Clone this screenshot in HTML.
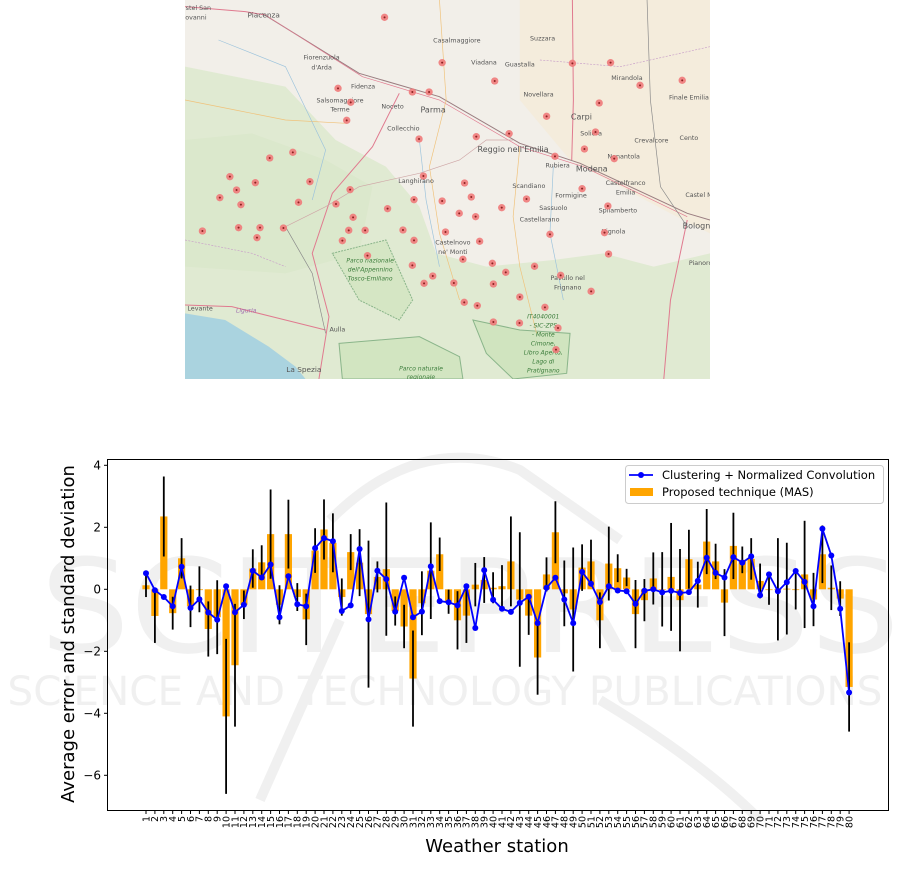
<!DOCTYPE html>
<html><head><meta charset="utf-8"><style>
html,body{margin:0;padding:0;background:#fff;width:915px;height:881px;overflow:hidden}
svg{display:block}
text{font-family:"DejaVu Sans","Liberation Sans",sans-serif}
</style></head><body>
<svg id="s" width="915" height="881" viewBox="0 0 915 881" xmlns="http://www.w3.org/2000/svg">
<svg x="185" y="0" width="525" height="379" viewBox="0 0 1568 1137" preserveAspectRatio="none">
<rect width="1568" height="1137" fill="#f2efe9"/>
<path d="M1000 0 L1568 0 L1568 700 L1450 640 L1300 560 L1150 480 L1000 300 Z" fill="#f5e9d3" opacity="0.6"/>
<path d="M0 200 L300 260 L450 420 L600 500 L700 620 L750 760 L900 800 L1100 780 L1250 760 L1400 800 L1568 760 L1568 1137 L0 1137 Z" fill="#e0ead2"/>
<path d="M0 420 L200 400 L420 480 L560 560 L520 760 L300 820 L0 800 Z" fill="#dbe8cc"/>
<path d="M440 760 L600 720 L680 900 L640 960 L520 900 Z" fill="#d5e6c4" stroke="#8ab58a" stroke-width="3" stroke-dasharray="6 3"/>
<path d="M860 960 L1000 990 L1150 1000 L1140 1120 L980 1137 L900 1060 Z" fill="#d0e4bf" stroke="#8ab58a" stroke-width="3"/>
<path d="M460 1030 L700 1010 L820 1070 L830 1137 L470 1137 Z" fill="#d2e5c1" stroke="#8ab58a" stroke-width="3"/>
<path d="M0 940 L120 960 L250 1040 L330 1100 L360 1137 L0 1137 Z" fill="#aad3df"/>
<g fill="none" stroke-width="3">
<path d="M230 40 L520 220 L760 290 L1000 430 L1180 490 L1500 640 L1568 660" stroke="#9a7d80"/>
<path d="M240 45 L530 230 L760 300 L1000 440 L1190 500 L1500 650" stroke="#e07a8f" stroke-width="2"/>
<path d="M0 20 L180 35 L240 45" stroke="#e07a8f"/>
<path d="M1157 0 L1160 300 L1155 480" stroke="#e07a8f"/>
<path d="M640 280 L560 440 L440 580 L380 760 L430 950 L400 1137" stroke="#e07a8f"/>
<path d="M0 915 L140 920 L300 960 L420 990" stroke="#e07a8f"/>
<path d="M1500 660 L1450 900 L1430 1137" stroke="#e07a8f"/>
<path d="M300 680 L420 620 L520 560 L700 520 L820 480 L900 420 L980 420" stroke="#cfa7a7" stroke-width="2"/>
<path d="M0 300 L150 330 L300 360 L480 370" stroke="#f0c27a" stroke-width="2"/>
<path d="M760 0 L780 300 L730 500 L760 700 L820 900" stroke="#f0c27a" stroke-width="2"/>
<path d="M1380 0 L1390 300 L1420 560 L1500 680" stroke="#888" stroke-width="2"/>
<path d="M1000 440 L980 650 L1000 800 L1050 1000" stroke="#f0c27a" stroke-width="2"/>
<path d="M300 680 L380 820 L420 1000" stroke="#888" stroke-width="2"/>
<path d="M0 720 L200 760 L300 800" stroke="#c9a0c9" stroke-width="2" stroke-dasharray="6 4"/>
<path d="M1060 180 L1300 200 L1568 140" stroke="#c9a0c9" stroke-width="2" stroke-dasharray="6 4"/>
<path d="M100 120 L300 200 L420 450 L380 600" stroke="#9cc3dc" stroke-width="2"/>
<path d="M700 420 L720 600 L760 800" stroke="#9cc3dc" stroke-width="2"/>
<path d="M1100 500 L1090 700 L1130 900" stroke="#9cc3dc" stroke-width="2"/>
</g>
<g font-size="19" fill="#555" text-anchor="middle">
<text x="235" y="52" font-size="22">Piacenza</text><text x="40" y="30">stel San</text><text x="30" y="58">iovanni</text>
<text x="812" y="127">Casalmaggiore</text><text x="1068" y="122">Suzzara</text>
<text x="408" y="178">Fiorenzuola</text><text x="408" y="208">d'Arda</text>
<text x="893" y="194">Viadana</text><text x="1000" y="200">Guastalla</text>
<text x="532" y="265">Fidenza</text><text x="463" y="307">Salsomaggiore</text><text x="463" y="335">Terme</text>
<text x="620" y="326">Noceto</text><text x="741" y="338" font-size="24">Parma</text>
<text x="1056" y="290">Novellara</text><text x="1320" y="240">Mirandola</text>
<text x="1505" y="298">Finale Emilia</text><text x="1184" y="358" font-size="24">Carpi</text>
<text x="652" y="392">Collecchio</text><text x="1213" y="407">Soliera</text>
<text x="1393" y="427">Crevalcore</text><text x="1505" y="420">Cento</text>
<text x="980" y="456" font-size="24">Reggio nell'Emilia</text><text x="1310" y="476">Nonantola</text>
<text x="1113" y="503">Rubiera</text><text x="1215" y="514" font-size="24">Modena</text>
<text x="690" y="549">Langhirano</text><text x="1027" y="564">Scandiano</text>
<text x="1316" y="555">Castelfranco</text><text x="1316" y="583">Emilia</text>
<text x="1153" y="592">Formigine</text><text x="1535" y="591">Castel M</text>
<text x="1100" y="630">Sassuolo</text><text x="1293" y="638">Spilamberto</text>
<text x="1059" y="664">Castellarano</text><text x="1280" y="700">Vignola</text>
<text x="1535" y="686" font-size="24">Bologna</text>
<text x="800" y="734">Castelnovo</text><text x="800" y="762">ne' Monti</text>
<text x="1540" y="795">Pianoro</text>
<text x="1143" y="840">Pavullo nel</text><text x="1143" y="868">Frignano</text>
<text x="45" y="932">Levante</text><text x="355" y="1116" font-size="22">La Spezia</text>
<text x="455" y="995">Aulla</text>
</g>
<g font-size="18" fill="#3c7d3c" font-style="italic" text-anchor="middle">
<text x="553" y="788">Parco nazionale</text><text x="553" y="815">dell'Appennino</text><text x="553" y="842">Tosco-Emiliano</text>
<text x="1070" y="955">IT4040001</text><text x="1070" y="982">- SIC-ZPS</text><text x="1070" y="1009">- Monte</text><text x="1070" y="1036">Cimone,</text><text x="1070" y="1063">Libro Aperto,</text><text x="1070" y="1090">Lago di</text><text x="1070" y="1117">Pratignano</text>
<text x="705" y="1112">Parco naturale</text><text x="705" y="1137">regionale</text>
<text x="183" y="938" fill="#a070b0">Liguria</text>
</g>
<g id="dots"></g>
</svg>

<g fill="#f0f0f0">
<text x="470" y="652" font-size="130" text-anchor="middle" textLength="860" lengthAdjust="spacingAndGlyphs">SCITEPRESS</text>
<text x="445" y="705" font-size="40" text-anchor="middle" textLength="875" lengthAdjust="spacingAndGlyphs">SCIENCE AND TECHNOLOGY PUBLICATIONS</text>
</g>
<path d="M330 520 Q420 430 520 470 L620 540 M260 800 L340 620 M600 700 Q700 760 760 820" fill="none" stroke="#f0f0f0" stroke-width="10"/>
<g id="chart"></g>
<rect x="107.5" y="459.5" width="781" height="351" fill="none" stroke="#000" stroke-width="1"/>
<g font-size="12" text-anchor="end" id="yt"></g>
<text transform="translate(74,634) rotate(-90)" font-size="18" text-anchor="middle">Average error and standard deviation</text>
<text x="497" y="852" font-size="18" text-anchor="middle">Weather station</text>
<g id="xt" font-size="9.5" text-anchor="end"></g>
<rect x="625.5" y="465.5" width="258" height="38" rx="3" fill="#fff" fill-opacity="0.8" stroke="#ccc"/>
<line x1="629" y1="475" x2="653" y2="475" stroke="#0000ff" stroke-width="1.8"/>
<circle cx="641" cy="475" r="3" fill="#0000ff"/>
<rect x="630" y="488" width="23" height="8" fill="#ffa500"/>
<text x="662" y="479" font-size="11.5">Clustering + Normalized Convolution</text>
<text x="662" y="496" font-size="11.5">Proposed technique (MAS)</text>
</svg>
<script>
var NS="http://www.w3.org/2000/svg";
function el(p,t,a,txt){var e=document.createElementNS(NS,t);for(var k in a)e.setAttribute(k,a[k]);if(txt!=null)e.textContent=txt;document.getElementById(p).appendChild(e);return e;}
var dots=[[596,52],[768,188],[925,243],[1157,190],[1271,188],[1485,241],[1359,256],[1237,309],[1080,349],[968,401],[870,410],[1226,396],[1193,447],[1105,469],[1282,476],[457,265],[495,307],[483,361],[679,276],[729,276],[699,417],[253,474],[322,457],[134,530],[210,548],[154,570],[104,593],[167,614],[52,693],[160,683],[224,683],[215,713],[294,684],[373,545],[339,607],[493,569],[451,612],[502,652],[489,691],[538,691],[470,722],[545,767],[605,626],[712,528],[835,549],[855,591],[684,599],[768,603],[819,640],[868,650],[946,623],[1020,597],[1186,566],[1263,618],[651,690],[778,696],[684,721],[880,724],[830,778],[1090,703],[1253,698],[1265,762],[679,796],[740,828],[714,850],[803,849],[918,790],[958,817],[921,852],[1044,799],[1122,826],[1213,874],[1000,891],[834,907],[873,917],[1075,922],[921,966],[999,969],[1114,984],[1108,1049]];
dots.forEach(function(d){el("dots","circle",{cx:d[0],cy:d[1],r:11,fill:"#f07a7a",opacity:0.9});el("dots","circle",{cx:d[0],cy:d[1],r:3,fill:"#8a2020"});});
var D=[[0.13,0.52,0.38],[-0.86,-0.03,0.87],[2.35,-0.25,1.29],[-0.77,-0.55,0.53],[1.0,0.73,0.65],[-0.55,-0.6,0.67],[0.0,-0.32,0.74],[-1.28,-0.75,0.89],[-0.9,-0.98,1.19],[-4.1,0.1,2.5],
[-2.45,-0.74,1.98],[-0.5,-0.5,0.46],[0.67,0.6,0.62],[0.87,0.38,0.55],[1.78,0.8,1.44],[-0.5,-0.9,0.63],[1.78,0.42,1.11],[-0.25,-0.48,0.45],[-0.97,-0.55,0.83],[1.25,1.33,0.72],
[1.93,1.65,0.97],[1.5,1.55,0.95],[-0.25,-0.7,0.6],[1.2,-0.52,0.58],[0.86,1.3,1.08],[-0.8,-0.97,2.37],[0.4,0.6,0.5],[0.65,0.33,2.15],[-0.7,-0.72,0.47],[-1.2,0.37,0.7],
[-2.88,-0.9,1.55],[-0.45,-0.72,1.03],[0.6,0.74,1.56],[1.13,-0.38,0.54],[-0.4,-0.42,0.39],[-1.0,-0.52,0.94],[-0.85,0.1,0.88],[0.15,-1.25,0.7],[0.3,0.62,0.74],[0.05,-0.34,0.5],
[0.1,-0.63,0.68],[0.9,-0.73,1.45],[-0.33,-0.44,2.17],[-0.85,-0.24,0.62],[-2.2,-1.09,1.2],[0.48,0.05,0.55],[1.84,0.37,1.0],[-0.13,-0.33,1.06],[-0.65,-1.09,2.0],[0.7,0.56,0.75],
[0.9,0.18,0.7],[-1.0,-0.41,0.9],[0.83,0.1,1.19],[0.68,-0.04,0.45],[0.38,-0.06,0.28],[-0.8,-0.47,1.1],[-0.35,-0.05,0.68],[0.35,0.0,0.84],[0.0,-0.1,1.2],[0.4,-0.05,1.74],
[-0.35,-0.12,1.65],[0.97,-0.09,0.95],[0.15,0.27,0.74],[1.54,1.02,1.05],[0.9,0.53,0.57],[-0.43,0.38,1.08],[1.4,1.04,1.07],[0.95,0.86,0.43],[0.98,1.06,0.67],[0.27,-0.19,0.56],
[0.0,0.48,0.5],[0.0,-0.06,1.65],[0.02,0.23,1.48],[0.0,0.59,0.65],[0.48,0.24,1.73],[-0.33,-0.55,0.86],[1.13,1.95,0.93],[0.05,1.09,0.72],[-0.3,-0.63,0.56],[-3.15,-3.33,1.44]];
function X(k){return 146+(k-1)*8.9;}function Y(v){return 589.3-31*v;}
var pts=[];
D.forEach(function(d,i){var x=X(i+1);var y0=Y(0),y1=Y(d[0]);
el("chart","rect",{x:x-3.6,y:Math.min(y0,y1),width:7.2,height:Math.max(Math.abs(y1-y0),0.8),fill:"#ffa500"});
pts.push(x.toFixed(1)+","+Y(d[1]).toFixed(1));});
D.forEach(function(d,i){var x=X(i+1);el("chart","line",{x1:x,x2:x,y1:Y(d[0]+d[2]),y2:Y(d[0]-d[2]),stroke:"#000","stroke-width":1.8});});
el("chart","polyline",{points:pts.join(" "),fill:"none",stroke:"#0000ff","stroke-width":1.8});
pts.forEach(function(p){var a=p.split(",");el("chart","circle",{cx:a[0],cy:a[1],r:3,fill:"#0000ff"});});
[4,2,0,-2,-4,-6].forEach(function(v){var y=Y(v);el("yt","line",{x1:104,x2:107.5,y1:y,y2:y,stroke:"#000"});el("yt","text",{x:101,y:y+4.3},(v<0?"\u2212":"")+Math.abs(v));});
for(var k=1;k<=80;k++){var x=X(k);el("xt","line",{x1:x,x2:x,y1:810.5,y2:814,stroke:"#000"});el("xt","text",{transform:"translate("+(x+3.3)+",816) rotate(-90)"},String(k));}
</script>
</body></html>
